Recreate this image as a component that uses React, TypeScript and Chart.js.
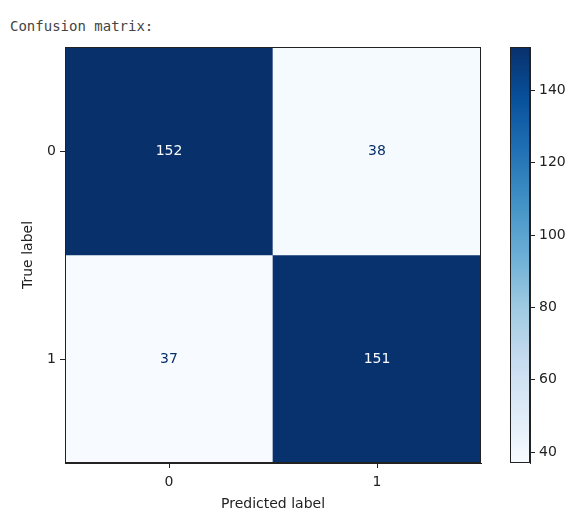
import React, { useEffect, useRef } from 'react';
import { Chart, registerables } from 'chart.js';

Chart.register(...registerables);

const titleText = 'Confusion matrix:';
const predictedLabels = ['0', '1'];
const trueLabels = ['0', '1'];
const countsTrue0 = [152, 38];
const countsTrue1 = [37, 151];
const colorbarTicks = [40, 60, 80, 100, 120, 140];
const xTitle = 'Predicted label';
const yTitle = 'True label';

const BLUES = ['#f7fbff', '#deebf7', '#c6dbef', '#9ecae1', '#6baed6', '#4292c6', '#2171b5', '#08519c', '#08306b'];
const FONT = 'DejaVu Sans';
const INK = '#222222';

const matrix = [countsTrue0, countsTrue1];
const allValues = matrix.flat();
const vmin = Math.min(...allValues);
const vmax = Math.max(...allValues);

function hexToRgb(h: string) {
  const n = parseInt(h.slice(1), 16);
  return [(n >> 16) & 255, (n >> 8) & 255, n & 255];
}
function blues(t: number) {
  const c = Math.max(0, Math.min(1, t));
  const pos = c * (BLUES.length - 1);
  const i = Math.min(Math.floor(pos), BLUES.length - 2);
  const f = pos - i;
  const a = hexToRgb(BLUES[i]);
  const b = hexToRgb(BLUES[i + 1]);
  const m = a.map((v, k) => Math.round(v + (b[k] - v) * f));
  return `rgb(${m[0]},${m[1]},${m[2]})`;
}
const norm = (v: number) => (v - vmin) / (vmax - vmin);

const framePlugin = {
  id: 'frame',
  afterDatasetsDraw(chart: any) {
    const { ctx, chartArea } = chart;
    ctx.save();
    ctx.strokeStyle = INK;
    ctx.lineWidth = 1;
    ctx.strokeRect(
      Math.round(chartArea.left) + 0.5,
      Math.round(chartArea.top) + 0.5,
      Math.round(chartArea.right - chartArea.left) - 1,
      Math.round(chartArea.bottom - chartArea.top) - 1
    );
    ctx.restore();
  },
};

const cellTextPlugin = {
  id: 'cellText',
  afterDatasetsDraw(chart: any) {
    const { ctx, scales } = chart;
    const mid = (vmin + vmax) / 2;
    ctx.save();
    ctx.font = `14px "${FONT}"`;
    ctx.textAlign = 'center';
    ctx.textBaseline = 'middle';
    matrix.forEach((row, i) => {
      row.forEach((v, j) => {
        const x = scales.x.getPixelForValue(j);
        const y = scales.y.getPixelForValue(i);
        ctx.fillStyle = v > mid ? BLUES[0] : BLUES[BLUES.length - 1];
        ctx.fillText(String(v), x, y);
      });
    });
    ctx.restore();
  },
};

export default function App() {
  const mainRef = useRef<HTMLCanvasElement>(null);
  const barRef = useRef<HTMLCanvasElement>(null);

  useEffect(() => {
    const font = { family: FONT, size: 14 };
    const main = new Chart(mainRef.current!, {
      type: 'bar',
      data: {
        labels: predictedLabels,
        datasets: matrix.map((row, i) => ({
          label: trueLabels[i],
          data: row.map(() => [i - 0.5, i + 0.5]),
          backgroundColor: row.map((v) => blues(norm(v))),
          borderWidth: 0,
          grouped: false,
          barPercentage: 1,
          categoryPercentage: 1,
        })) as any,
      },
      options: {
        animation: false,
        responsive: false,
        devicePixelRatio: 1,
        layout: { padding: { left: 14, top: 47, right: 19, bottom: 0 } },
        plugins: { legend: { display: false }, tooltip: { enabled: false } },
        scales: {
          x: {
            type: 'category',
            offset: true,
            grid: { offset: false, drawOnChartArea: false, tickLength: 5, color: INK },
            border: { display: true, color: INK },
            ticks: { color: INK, font, padding: 6 },
            title: { display: true, text: xTitle, color: INK, font, padding: { top: 0, bottom: -2 } },
            afterFit: (s: any) => { s.height = 48; },
          },
          y: {
            type: 'linear',
            reverse: true,
            min: -0.5,
            max: trueLabels.length - 0.5,
            afterBuildTicks: (s: any) => { s.ticks = trueLabels.map((_, i) => ({ value: i })); },
            grid: { drawOnChartArea: false, tickLength: 5, color: INK },
            border: { display: true, color: INK },
            ticks: { color: INK, font, padding: 4, callback: (v: any) => trueLabels[v] ?? '' },
            title: { display: true, text: yTitle, color: INK, font, padding: { top: 6, bottom: 0 } },
            afterFit: (s: any) => { s.width = 51; },
          },
        },
      } as any,
      plugins: [framePlugin, cellTextPlugin],
    });

    const bar = new Chart(barRef.current!, {
      type: 'bar',
      data: {
        labels: ['colorbar'],
        datasets: [
          {
            data: [[vmin, vmax]],
            borderWidth: 0,
            barPercentage: 1,
            categoryPercentage: 1,
            backgroundColor: (c: any) => {
              const chart = c.chart;
              if (!chart.chartArea) return BLUES[0];
              const y = chart.scales.y;
              const g = chart.ctx.createLinearGradient(0, y.getPixelForValue(vmin), 0, y.getPixelForValue(vmax));
              BLUES.forEach((col, k) => g.addColorStop(k / (BLUES.length - 1), col));
              return g;
            },
          },
        ] as any,
      },
      options: {
        animation: false,
        responsive: false,
        devicePixelRatio: 1,
        layout: { padding: { left: 10, top: 47, right: 0, bottom: 48 } },
        plugins: { legend: { display: false }, tooltip: { enabled: false } },
        scales: {
          x: { display: false },
          y: {
            type: 'linear',
            position: 'right',
            min: vmin,
            max: vmax,
            afterBuildTicks: (s: any) => { s.ticks = colorbarTicks.map((v) => ({ value: v })); },
            grid: { drawOnChartArea: false, tickLength: 5, color: INK },
            border: { display: true, color: INK },
            ticks: { color: INK, font, padding: 4 },
            afterFit: (s: any) => { s.width = 39; },
          },
        },
      } as any,
      plugins: [framePlugin],
    });

    return () => {
      main.destroy();
      bar.destroy();
    };
  }, []);

  return (
    <div style={{ position: 'absolute', left: 0, top: 0, width: 569, height: 511, background: '#fff', overflow: 'hidden' }}>
      <div
        style={{
          position: 'absolute',
          left: 10,
          top: 18,
          fontFamily: '"DejaVu Sans Mono", monospace',
          fontSize: 14,
          lineHeight: '16px',
          color: '#444',
          whiteSpace: 'pre',
        }}
      >
        {titleText}
      </div>
      <canvas ref={mainRef} width={500} height={511} style={{ position: 'absolute', left: 0, top: 0, width: 500, height: 511 }} />
      <canvas ref={barRef} width={69} height={511} style={{ position: 'absolute', left: 500, top: 0, width: 69, height: 511 }} />
    </div>
  );
}
